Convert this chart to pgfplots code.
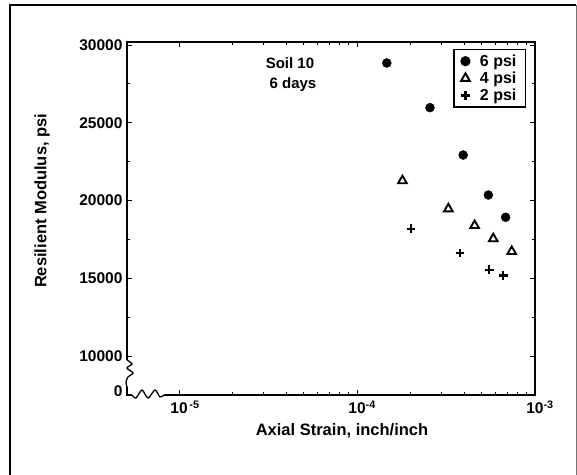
\documentclass[border=0pt]{standalone}
\usepackage{fontspec}
\setmainfont{Liberation Sans}
\usepackage{pgfplots}
\pgfplotsset{compat=1.18}

% resilient modulus vs axial strain, one table per confining pressure
\pgfplotstableread{
x        y
1.47e-4  28850
2.57e-4  25980
3.95e-4  22930
5.47e-4  20360
6.84e-4  18930
}\sixpsi
\pgfplotstableread{
x        y
1.80e-4  21280
3.26e-4  19470
4.58e-4  18400
5.83e-4  17550
7.40e-4  16730
}\fourpsi
\pgfplotstableread{
x        y
2.01e-4  18190
3.79e-4  16620
5.53e-4  15560
6.64e-4  15190
}\twopsi

\begin{document}
\begin{tikzpicture}[x=1pt,y=1pt]
\useasboundingbox (-127,-79) rectangle (450,395);
% outer frame of the scanned figure
\draw[line width=1.6pt] (-117,-82) -- (-117,390) -- (300,390);
\draw[line width=1.2pt] (300,390) -- (449,390);
\draw[line width=0.8pt,black!55] (449,390) -- (449,-82);
\begin{axis}[
  at={(0,0)}, anchor=south west,
  scale only axis, width=408pt, height=353pt,
  xmode=log, xmin=5.1e-6, xmax=1e-3,
  ymin=7500, ymax=30200,
  axis line style={line width=1.4pt},
  tick align=inside,
  major tick length=5pt, minor tick length=3pt,
  every tick/.style={black, line width=1pt},
  xtick={1e-5,1e-4,1e-3},
  xticklabels={10\rlap{\textsuperscript{\,-5}},10\rlap{\textsuperscript{-4}},10\rlap{\textsuperscript{-3}}},
  ytick={10000,15000,20000,25000,30000},
  yticklabels={10000,15000,20000,25000,30000},
  minor ytick={12500,17500,22500,27500},
  extra y ticks={7750}, extra y tick labels={0},
  extra y tick style={major tick length=0pt},
  scaled y ticks=false,
  tick label style={font=\fontsize{15.5}{17}\selectfont\bfseries},
  yticklabel style={xshift=-1pt},
  xticklabel style={yshift=-2pt},
  xlabel={Axial Strain, inch/inch},
  ylabel={Resilient Modulus, psi},
  label style={font=\fontsize{16.5}{18}\selectfont\bfseries},
  x label style={at={(axis description cs:0.527,-0.102)}, anchor=center},
  y label style={at={(axis description cs:-0.208,0.55)}, anchor=center},
  legend cell align=left,
  legend style={at={(rel axis cs:0.978,0.980)}, anchor=north east,
    draw=black, line width=1.2pt, font=\fontsize{16}{16}\selectfont\bfseries,
    inner xsep=7pt, inner ysep=3pt, row sep=0pt},
]
\addplot[only marks, mark=*, mark size=4.5pt, black] table[x=x,y=y] {\sixpsi};
\addlegendentry{\hspace{8pt}6 psi}
\addplot[only marks, mark=triangle, mark size=5pt, black, line width=1.9pt] table[x=x,y=y] {\fourpsi};
\addlegendentry{\hspace{8pt}4 psi}
\addplot[only marks, mark=+, mark size=4.3pt, black, line width=2.3pt] table[x=x,y=y] {\twopsi};
\addlegendentry{\hspace{8pt}2 psi}
\end{axis}
% annotation
\node[align=center, font=\fontsize{15}{20}\selectfont\bfseries] at (163,320) {Soil 10\\\hspace*{6pt}6 days};
% axis breaks
\fill[white] (5,-2) rectangle (37,2);
\draw[line width=1.3pt, smooth] plot coordinates {(5,0) (9,-3) (15,5) (21,-3) (28,5) (33,-2) (37,0)};
\fill[white] (-2,8) rectangle (2,35);
\draw[line width=1.3pt, smooth] plot coordinates {(0,35) (5,31) (0,27) (6,22) (1,18) (-1,13) (0,8)};
\end{tikzpicture}
\end{document}
